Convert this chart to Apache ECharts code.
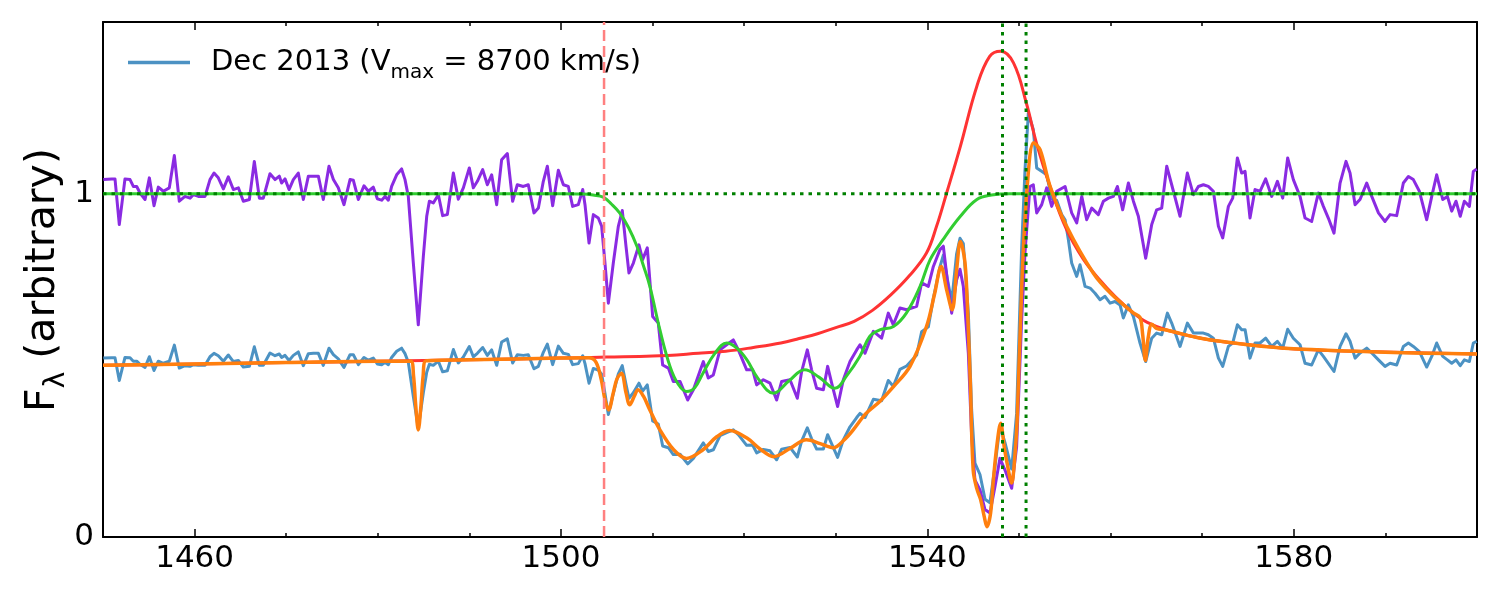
<!DOCTYPE html>
<html><head><meta charset="utf-8">
<script src="https://cdn.jsdelivr.net/npm/echarts@6/dist/echarts.min.js"></script>
<style>html,body{margin:0;padding:0;background:#fff}#c{width:1500px;height:600px}</style>
</head><body><div id="c"></div><script>
// ---- data ----
const purpleWave = [1450.04,1450.95,1451.31,1451.78,1452.40,1452.95,1453.31,1453.68,1454.04,1454.59,1455.06,1455.57,1456.04,1456.59,1457.24,1457.79,1458.33,1458.95,1459.50,1459.86,1460.41,1461.14,1461.68,1462.12,1462.59,1463.14,1463.68,1464.23,1464.78,1465.32,1465.98,1466.52,1467.07,1467.50,1468.23,1468.78,1469.25,1469.50,1469.87,1470.31,1470.78,1471.32,1471.87,1472.42,1472.96,1473.51,1474.05,1474.67,1475.15,1475.69,1476.31,1476.97,1477.33,1477.88,1478.49,1478.97,1479.51,1479.95,1480.42,1480.79,1481.15,1481.51,1482.06,1482.60,1482.97,1483.33,1483.88,1484.42,1484.97,1485.34,1485.63,1486.06,1486.61,1487.08,1487.59,1488.25,1488.79,1489.34,1489.99,1490.43,1490.87,1491.45,1491.96,1492.43,1492.98,1493.52,1494.14,1494.72,1495.23,1495.89,1496.43,1497.05,1497.53,1498.07,1498.51,1499.09,1499.71,1500.26,1500.80,1501.27,1501.89,1502.37,1502.62,1503.06,1503.53,1504.07,1504.44,1504.80,1505.17,1505.71,1506.26,1506.69,1507.10,1507.42,1507.90,1508.51,1508.91,1509.42,1510.01,1510.62,1511.10,1511.72,1512.26,1513.00,1513.83,1514.45,1515.54,1516.08,1516.63,1517.36,1518.08,1518.81,1519.36,1520.27,1520.92,1521.36,1522.09,1522.82,1523.54,1524.09,1525.00,1525.80,1526.27,1526.89,1527.36,1527.91,1528.64,1529.11,1529.55,1530.20,1530.82,1531.55,1532.28,1532.64,1533.19,1534.10,1535.00,1535.73,1536.28,1537.00,1537.73,1538.83,1539.37,1540.10,1540.65,1541.37,1541.74,1542.17,1542.65,1543.19,1543.56,1543.92,1544.47,1544.83,1545.19,1545.74,1546.29,1546.83,1547.38,1547.92,1548.47,1549.20,1549.74,1550.29,1550.65,1551.20,1551.56,1551.93,1552.48,1553.02,1553.57,1554.12,1555.03,1555.75,1556.30,1556.85,1557.39,1557.94,1558.66,1559.21,1559.76,1560.30,1560.74,1561.32,1561.94,1562.49,1563.03,1563.83,1564.49,1565.03,1565.58,1566.13,1566.67,1567.58,1568.38,1569.04,1569.58,1570.13,1570.67,1571.22,1571.77,1572.24,1572.86,1573.33,1573.84,1574.31,1574.68,1575.22,1575.77,1576.31,1576.93,1577.59,1578.21,1578.79,1579.33,1579.95,1580.68,1581.23,1581.95,1582.68,1583.23,1583.77,1584.39,1585.05,1585.70,1586.14,1586.69,1587.23,1587.96,1588.51,1589.24,1589.96,1590.51,1591.23,1591.96,1592.51,1593.05,1593.71,1594.51,1595.06,1595.60,1596.26,1596.77,1597.24,1597.71,1598.17,1598.62,1599.17,1599.60,1599.97];
const purpleFlux = [1.041,1.043,1.043,0.910,1.043,1.041,1.021,1.021,1.002,0.983,1.046,0.965,1.019,1.007,1.017,1.111,0.978,0.992,0.987,0.997,0.992,0.992,1.041,1.060,1.046,1.014,1.049,1.012,1.017,0.978,0.983,1.094,0.987,0.987,1.058,1.041,1.051,1.031,1.043,1.012,1.041,1.060,0.983,1.051,1.051,1.051,0.983,1.080,1.041,1.017,0.968,1.041,1.039,0.983,1.023,1.007,1.019,0.985,0.981,0.992,0.981,1.021,1.055,1.072,1.041,0.992,0.798,0.618,0.817,0.934,0.978,0.973,0.997,0.936,0.939,1.060,0.984,1.017,1.075,1.017,1.036,1.070,1.026,1.055,0.968,1.099,1.117,0.978,1.026,1.021,1.026,0.944,0.958,1.036,1.080,0.965,1.068,1.026,1.021,0.963,0.968,1.012,0.968,0.856,0.939,0.929,0.905,0.798,0.681,0.798,0.905,0.951,0.846,0.769,0.798,0.851,0.808,0.842,0.642,0.623,0.501,0.492,0.453,0.453,0.399,0.429,0.511,0.463,0.472,0.545,0.560,0.574,0.545,0.487,0.487,0.443,0.458,0.448,0.399,0.453,0.458,0.404,0.482,0.545,0.487,0.433,0.429,0.497,0.448,0.380,0.458,0.511,0.545,0.560,0.535,0.599,0.579,0.652,0.618,0.667,0.662,0.672,0.740,0.730,0.788,0.837,0.847,0.749,0.652,0.749,0.780,0.730,0.535,0.293,0.166,0.137,0.080,0.070,0.147,0.229,0.195,0.142,0.263,0.633,0.827,1.021,1.026,0.944,0.968,1.017,0.963,1.007,1.021,0.944,0.915,0.992,0.924,0.958,0.939,0.978,0.987,0.992,1.021,0.953,1.031,0.978,0.934,0.812,0.910,0.953,0.958,1.080,1.026,0.934,1.060,0.997,1.021,1.026,1.021,1.007,0.905,0.871,0.963,0.987,1.104,1.060,1.065,0.929,1.012,1.007,1.043,0.992,1.036,0.987,1.104,1.041,0.992,0.929,0.919,1.002,0.963,0.929,0.885,1.031,1.094,1.060,0.968,0.983,1.031,0.992,0.944,0.919,0.939,0.936,1.031,1.050,1.041,1.007,0.924,0.992,1.055,0.983,0.992,0.949,0.978,0.934,0.978,0.963,1.065,1.072];

const blueWave = [1450.04,1450.95,1451.31,1451.78,1452.40,1452.95,1453.31,1453.68,1454.04,1454.59,1455.06,1455.57,1456.04,1456.59,1457.24,1457.79,1458.33,1458.95,1459.50,1459.86,1460.41,1461.14,1461.68,1462.12,1462.59,1463.14,1463.68,1464.23,1464.78,1465.32,1465.98,1466.52,1467.07,1467.50,1468.23,1468.78,1469.25,1469.50,1469.87,1470.31,1470.78,1471.32,1471.87,1472.42,1472.96,1473.51,1474.05,1474.67,1475.15,1475.69,1476.31,1476.97,1477.33,1477.88,1478.49,1478.97,1479.51,1479.95,1480.42,1480.79,1481.15,1481.51,1482.06,1482.60,1482.97,1483.33,1483.88,1484.42,1484.97,1485.34,1485.63,1486.06,1486.61,1487.08,1487.59,1488.25,1488.79,1489.34,1489.99,1490.43,1490.87,1491.45,1491.96,1492.43,1492.98,1493.52,1494.14,1494.72,1495.23,1495.89,1496.43,1497.05,1497.53,1498.07,1498.51,1499.09,1499.71,1500.26,1500.80,1501.27,1501.89,1502.37,1502.62,1503.06,1503.53,1504.07,1504.44,1504.80,1505.17,1505.71,1506.26,1506.69,1507.10,1507.42,1507.90,1508.51,1508.91,1509.42,1510.01,1510.62,1511.10,1511.72,1512.26,1513.00,1513.83,1514.45,1515.54,1516.08,1516.63,1517.36,1518.08,1518.81,1519.36,1520.27,1520.92,1521.36,1522.09,1522.82,1523.54,1524.09,1525.00,1525.80,1526.27,1526.89,1527.36,1527.91,1528.64,1529.11,1529.55,1530.20,1530.82,1531.55,1532.28,1532.64,1533.19,1534.10,1535.00,1535.73,1536.28,1537.00,1537.73,1538.83,1539.37,1540.10,1540.65,1541.37,1541.74,1542.17,1542.65,1543.19,1543.56,1543.92,1544.47,1544.83,1545.19,1545.74,1546.29,1546.83,1547.38,1547.92,1548.47,1549.20,1549.74,1550.29,1550.65,1551.02,1551.56,1551.93,1552.47,1553.02,1553.57,1554.12,1554.66,1555.03,1555.39,1555.75,1556.30,1556.66,1557.21,1557.76,1558.30,1558.85,1559.39,1559.94,1560.48,1561.03,1561.39,1561.94,1562.49,1563.21,1563.83,1564.49,1565.03,1565.58,1566.20,1566.67,1567.58,1568.38,1569.04,1569.58,1570.13,1570.67,1571.22,1571.77,1572.24,1572.86,1573.33,1573.84,1574.31,1574.68,1575.22,1575.77,1576.31,1576.93,1577.59,1578.21,1578.79,1579.33,1579.95,1580.68,1581.23,1581.95,1582.68,1583.23,1583.77,1584.39,1585.05,1585.70,1586.14,1586.69,1587.23,1587.96,1588.51,1589.24,1589.96,1590.51,1591.23,1591.96,1592.51,1593.05,1593.71,1594.51,1595.06,1595.60,1596.26,1596.77,1597.24,1597.71,1598.17,1598.62,1599.17,1599.60,1599.97];
const blueFlux = [0.521,0.522,0.522,0.456,0.523,0.522,0.512,0.512,0.503,0.494,0.525,0.485,0.512,0.506,0.512,0.559,0.492,0.499,0.497,0.502,0.500,0.500,0.525,0.535,0.528,0.512,0.530,0.511,0.514,0.495,0.497,0.554,0.500,0.500,0.536,0.528,0.533,0.523,0.529,0.514,0.529,0.539,0.499,0.534,0.535,0.535,0.500,0.550,0.531,0.519,0.494,0.531,0.531,0.502,0.523,0.515,0.521,0.504,0.502,0.508,0.502,0.523,0.541,0.550,0.534,0.509,0.409,0.317,0.420,0.480,0.503,0.500,0.512,0.481,0.484,0.546,0.507,0.524,0.555,0.525,0.535,0.552,0.529,0.545,0.500,0.568,0.577,0.507,0.531,0.529,0.531,0.490,0.497,0.538,0.562,0.502,0.556,0.535,0.532,0.502,0.505,0.528,0.505,0.448,0.491,0.486,0.474,0.418,0.357,0.418,0.475,0.499,0.444,0.404,0.420,0.448,0.425,0.443,0.338,0.329,0.265,0.260,0.240,0.241,0.213,0.229,0.274,0.249,0.254,0.295,0.304,0.312,0.298,0.267,0.268,0.245,0.255,0.251,0.225,0.256,0.261,0.233,0.279,0.318,0.286,0.256,0.256,0.298,0.271,0.232,0.283,0.321,0.348,0.360,0.348,0.401,0.397,0.456,0.439,0.488,0.498,0.530,0.598,0.612,0.695,0.787,0.821,0.753,0.685,0.825,0.870,0.855,0.652,0.370,0.215,0.182,0.110,0.100,0.207,0.324,0.275,0.198,0.360,0.842,1.067,1.235,1.187,1.075,1.065,1.055,0.985,0.980,0.939,0.924,0.866,0.798,0.759,0.793,0.730,0.725,0.710,0.691,0.701,0.681,0.686,0.676,0.638,0.676,0.642,0.565,0.511,0.579,0.594,0.589,0.652,0.623,0.555,0.623,0.594,0.594,0.594,0.589,0.579,0.521,0.497,0.555,0.565,0.618,0.604,0.604,0.521,0.565,0.565,0.579,0.555,0.570,0.550,0.605,0.579,0.560,0.506,0.501,0.545,0.526,0.506,0.482,0.555,0.592,0.570,0.521,0.536,0.550,0.536,0.516,0.497,0.506,0.501,0.555,0.565,0.555,0.540,0.495,0.526,0.565,0.526,0.516,0.506,0.516,0.499,0.516,0.511,0.565,0.570];

const redWave = [1450,1460,1470,1480,1490,1500,1505,1510,1515,1518,1521,1524,1526,1528,1530,1532,1534,1536,1538,1539.9,1541,1542.1,1543.6,1545.4,1546.8,1548,1549.4,1550.8,1551.9,1553.4,1555.2,1557,1558.8,1560.5,1562.5,1564,1566.1,1570,1573.4,1577,1580.7,1588,1600];
const redFlux = [0.500,0.504,0.508,0.512,0.516,0.521,0.524,0.527,0.535,0.541,0.552,0.565,0.578,0.592,0.610,0.628,0.660,0.705,0.760,0.827,0.905,1.002,1.138,1.313,1.400,1.415,1.381,1.264,1.148,1.020,0.895,0.810,0.749,0.700,0.652,0.625,0.603,0.578,0.565,0.555,0.547,0.540,0.533];

const greenWave = [1450,1500,1502.4,1503.5,1504.6,1505.5,1506.4,1507.4,1508.3,1509.0,1509.7,1510.8,1511.9,1512.8,1513.7,1514.6,1515.5,1516.8,1518.1,1519.2,1520.3,1521.5,1523.2,1524.9,1526.6,1528.2,1529.9,1531.2,1532.6,1533.7,1534.8,1536.3,1537.7,1539.2,1540.3,1541.7,1543.6,1545.4,1547.0,1549.0,1600];
const greenFlux = [1.000,1.000,0.999,0.996,0.990,0.970,0.944,0.900,0.846,0.790,0.730,0.603,0.497,0.445,0.424,0.435,0.477,0.535,0.565,0.550,0.516,0.462,0.419,0.455,0.487,0.465,0.433,0.470,0.525,0.584,0.603,0.613,0.652,0.730,0.808,0.866,0.934,0.983,0.996,1.000,1.000];

const orangeWave = [1450,1460,1470,1480,1483.6,1483.9,1484.15,1484.42,1484.7,1484.95,1485.25,1490,1500,1503.0,1503.8,1504.4,1504.8,1505.2,1505.7,1506.1,1506.6,1507.1,1507.5,1508.0,1508.4,1509.0,1509.7,1510.8,1512.3,1513.7,1515.5,1517.0,1518.4,1520.3,1521.8,1523.2,1525.0,1526.8,1528.3,1529.7,1531.0,1531.9,1533.3,1534.8,1536.3,1538.1,1539.9,1540.8,1541.5,1542.1,1542.7,1543.2,1543.6,1544.1,1544.4,1544.7,1545.0,1545.4,1545.8,1546.2,1546.5,1546.9,1547.2,1547.6,1548.0,1548.4,1548.7,1549.2,1549.5,1549.8,1550.3,1550.9,1551.6,1552.3,1553.4,1555.2,1558.1,1560.0,1562.5,1563.2,1563.5,1563.8,1564.1,1564.5,1565.0,1566.1,1570,1575,1580,1590,1600];
const orangeFlux = [0.500,0.504,0.508,0.512,0.512,0.470,0.380,0.312,0.380,0.470,0.513,0.516,0.521,0.522,0.510,0.458,0.400,0.370,0.419,0.460,0.477,0.420,0.385,0.410,0.429,0.410,0.370,0.312,0.254,0.229,0.254,0.292,0.310,0.288,0.255,0.234,0.258,0.283,0.272,0.260,0.285,0.312,0.360,0.395,0.438,0.497,0.613,0.710,0.788,0.720,0.662,0.780,0.861,0.800,0.650,0.438,0.195,0.140,0.110,0.060,0.030,0.070,0.166,0.270,0.331,0.260,0.215,0.157,0.220,0.341,0.730,1.021,1.148,1.128,1.021,0.905,0.769,0.710,0.652,0.640,0.590,0.514,0.580,0.620,0.608,0.603,0.578,0.560,0.548,0.538,0.533];

const xMajorTicks = [1460,1500,1540,1580];
const xMinorTicks = [1470,1480,1490,1510,1520,1530,1550,1560,1570,1590];
const yMajorTicks = [0,1];
const civLines = [1548.2,1550.77];   // green dotted verticals
const vmaxLine = 1504.7;            // red dashed vertical
const contLevel = 1;                // green dotted horizontal

// ---- chart ----
const F = 'DejaVu Sans';
const zip = (a,b)=>a.map((x,i)=>[x,b[i]]);
const X0=1450, X1=1600, Y0=0, Y1=1.5;
const chart = echarts.init(document.getElementById('c'), null, {renderer:'canvas'});

function xAx(pos, ticks, len, labels){
  return {type:'value', min:X0, max:X1, position:pos,
    axisLine:{show:labels!==null, onZero:false, lineStyle:{color:'#000', width:2}},
    axisTick:{show:true, inside:true, length:len, customValues:ticks, lineStyle:{color:'#000', width:1.5}},
    axisLabel:labels ? {show:true, customValues:ticks, formatter:v=>String(v), fontSize:31, fontFamily:F, color:'#000', margin:6} : {show:false},
    splitLine:{show:false}};
}
function yAx(pos, labels){
  return {type:'value', min:Y0, max:Y1, position:pos,
    axisLine:{show:true, onZero:false, lineStyle:{color:'#000', width:2}},
    axisTick:{show:true, inside:true, length:8, customValues:yMajorTicks, lineStyle:{color:'#000', width:1.5}},
    axisLabel:labels ? {show:true, customValues:yMajorTicks, formatter:v=>String(v), fontSize:31, fontFamily:F, color:'#000', margin:9} : {show:false},
    splitLine:{show:false}};
}
const line = (name, data, color, w, z, smooth, type) => ({
  name, type:'line', data, showSymbol:false, symbol:'none', smooth:smooth||false, z,
  xAxisIndex:0, yAxisIndex:0, silent:true,
  itemStyle:{color}, lineStyle:{color, width:w, type:type||'solid', join:'round'}
});

const option = {
  animation:false,
  backgroundColor:'#fff',
  grid:{left:103, right:23, top:22, bottom:63, containLabel:false},
  xAxis:[ xAx('bottom', xMajorTicks, 8, true), xAx('bottom', xMinorTicks, 4, null),
          xAx('top', xMajorTicks, 8, false), xAx('top', xMinorTicks, 4, null) ],
  yAxis:[ yAx('left', true), yAx('right', false) ],
  legend:{data:['Dec 2013'], left:123, top:43, icon:'rect', itemWidth:62, itemHeight:3.5,
    formatter:()=> '{a|Dec 2013 (V}{b|max}{a| = 8700 km/s)}',
    textStyle:{padding:[0,0,0,16], rich:{
      a:{fontSize:29, fontFamily:F, color:'#000', lineHeight:40, verticalAlign:'middle'},
      b:{fontSize:20, fontFamily:F, color:'#000', lineHeight:20, verticalAlign:'bottom'}}}},
  graphic:[{type:'text', x:43, y:280, rotation:Math.PI/2,
    style:{text:'{a|F}{b|λ}{a| (arbitrary)}', align:'center', verticalAlign:'middle',
      rich:{a:{fontSize:41, fontFamily:F, fill:'#000', lineHeight:56, verticalAlign:'middle'},
            b:{fontSize:28, fontFamily:F, fill:'#000', lineHeight:28, verticalAlign:'bottom'}}}}],
  series:[
    line('Dec 2013', zip(blueWave, blueFlux), '#4c92c3', 3, 1),
    line('norm', zip(purpleWave, purpleFlux), '#8a2be2', 3, 2),
    line('emis', zip(redWave, redFlux), '#ff3333', 3, 3, 0.4),
    line('abs', zip(greenWave, greenFlux), '#32cd32', 3, 4, 0.4),
    line('model', zip(orangeWave, orangeFlux), '#ff7f0e', 3.5, 5, 0.35),
    line('cont', [[X0,contLevel],[X1,contLevel]], '#008000', 3, 6, false, [3.5,5]),
    line('civ1', [[civLines[0],Y0],[civLines[0],Y1]], '#008000', 3, 6, false, [3.5,5]),
    line('civ2', [[civLines[1],Y0],[civLines[1],Y1]], '#008000', 3, 6, false, [3.5,5]),
    line('vmax', [[vmaxLine,Y0],[vmaxLine,Y1]], '#ff8080', 2.5, 7, false, [11,5])
  ]
};
chart.setOption(option);
</script></body></html>
